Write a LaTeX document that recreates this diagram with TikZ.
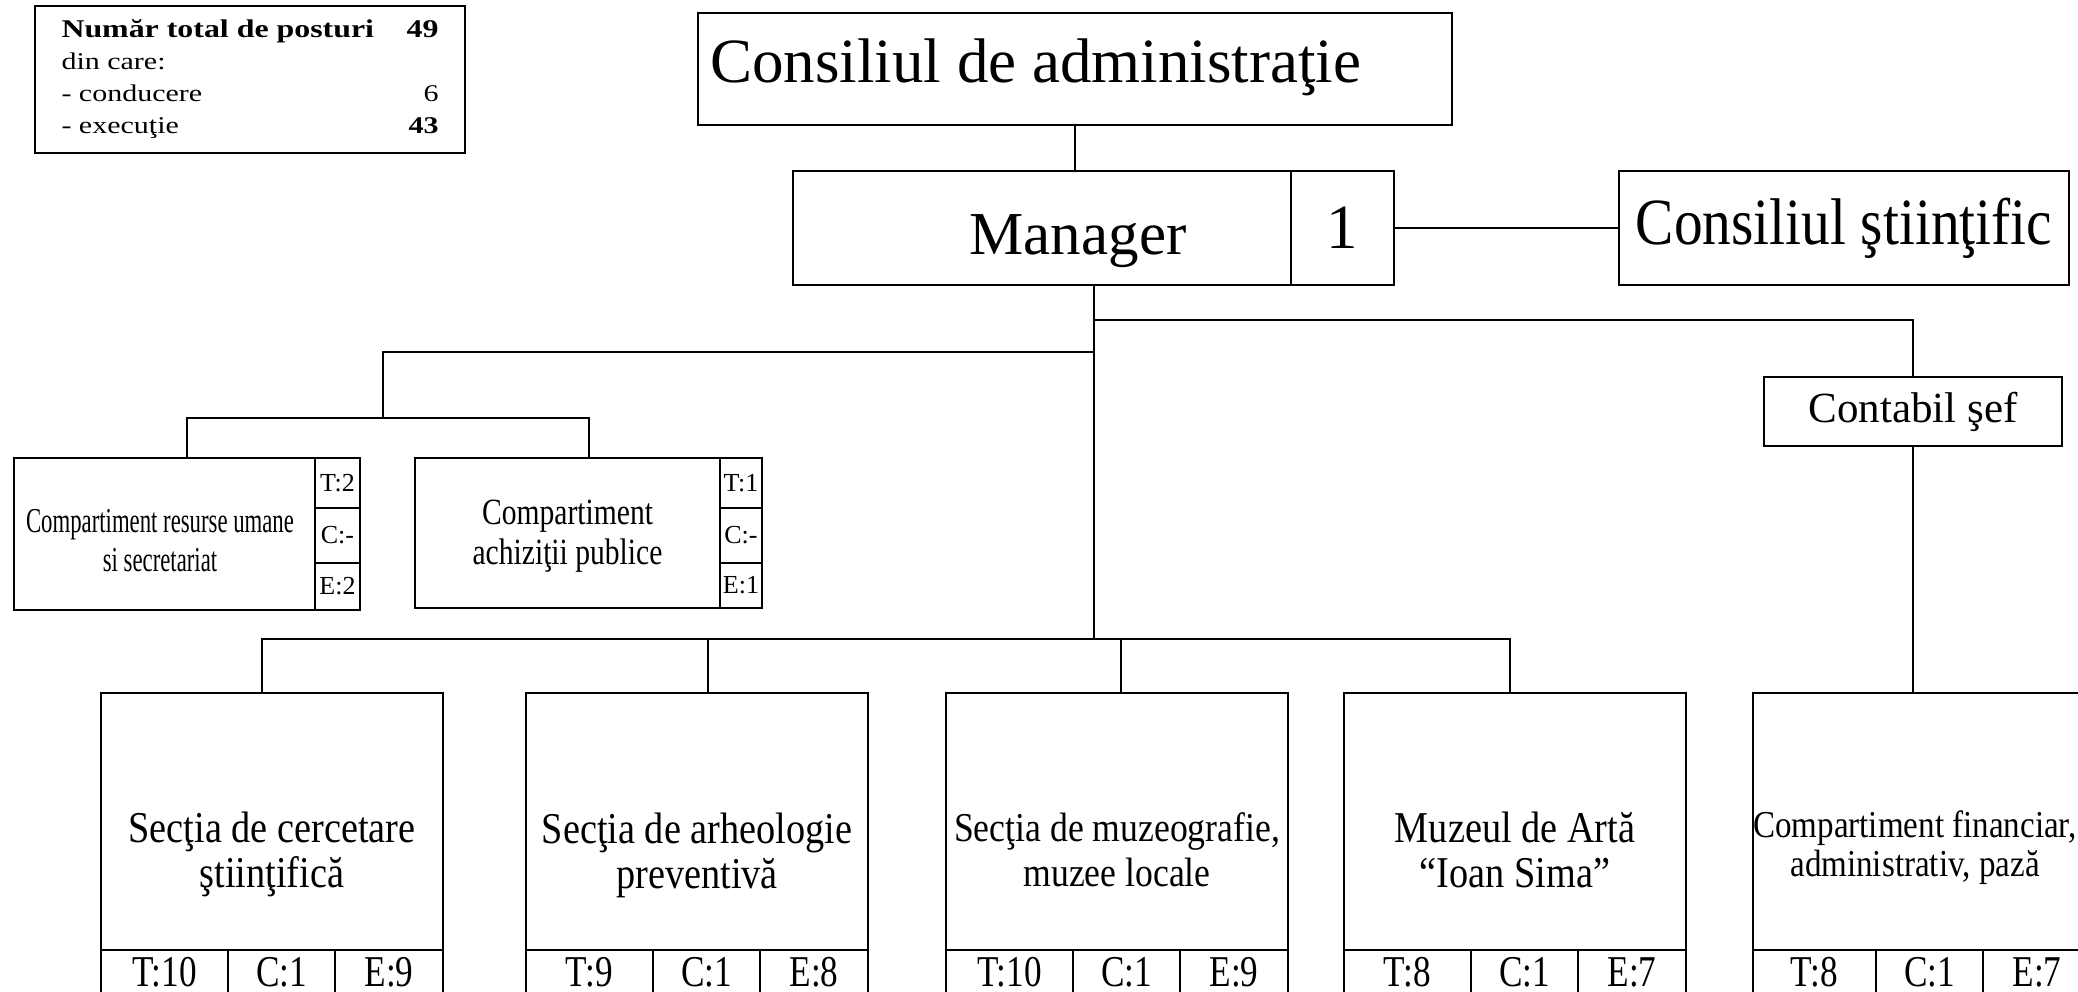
\documentclass[tikz,border=0pt]{standalone}
\usepackage{fontspec}
\setmainfont{Liberation Serif}
\newfontfamily\widefont[FakeStretch=1.25]{Liberation Serif}
\newfontfamily\condfont[FakeStretch=0.87]{Liberation Serif}
\newfontfamily\midfont[FakeStretch=0.8]{Liberation Serif}
\newfontfamily\narrowfont[FakeStretch=0.65]{Liberation Serif}
\usetikzlibrary{positioning}

\begin{document}
\begin{tikzpicture}[x=1pt,y=-1pt,inner sep=0pt,
    frame/.style={draw,line width=2.4pt,outer sep=0pt},
    wire/.style={line width=2pt},
    cell/.style={frame,anchor=north west,minimum height=44pt,font=\midfont\fontsize{44}{46}\selectfont},
    tag/.style={frame,font=\fontsize{26}{28}\selectfont},
    sect/.style={align=center,font=\condfont\fontsize{44}{45}\selectfont}]
        \useasboundingbox (0,0) rectangle (2078,992);
        \clip (0,0) rectangle (2078,992);
        \node[frame,minimum width=430pt,minimum height=147pt,font=\widefont\fontsize{24}{32}\selectfont] (tot) at (250,79.5)
            {\begin{tabular*}{377pt}{@{}l@{\extracolsep{\fill}}r@{}}
                {\fontsize{25.5}{32}\selectfont\textbf{Număr total de posturi}} & {\fontsize{25.5}{32}\selectfont\textbf{49}}\\
                din care: & \\
                - conducere & 6\\
                - execuţie & \textbf{43}
            \end{tabular*}};
        \node[frame,minimum width=754pt,minimum height=112pt] (ca) at (1075,69) {};
        \node[anchor=base west,font=\fontsize{63}{70}\selectfont] (cal) at (710,83) {Consiliul de administraţie};
        \node[frame,minimum width=601pt,minimum height=114pt] (mgr) at (1093.5,228) {};
        \node[anchor=base,font=\fontsize{61}{70}\selectfont] (mgrl) at (1078,255) {Manager};
        \node[frame,minimum width=103pt,minimum height=114pt,font=\fontsize{63}{70}\selectfont] (one) at (1342.5,228) {1};
        \node[frame,minimum width=450pt,minimum height=114pt,font=\condfont\fontsize{66}{70}\selectfont] (cs) at (1844,228) {Consiliul ştiinţific};
        \node[frame,minimum width=298pt,minimum height=69pt,font=\fontsize{43}{50}\selectfont] (cont) at (1913,411.5) {Contabil şef};
        \node[frame,minimum width=346pt,minimum height=152pt] (sb1) at (187,534) {};
        \node[align=center,font=\narrowfont\fontsize{35}{39}\selectfont] (sb1l) at (160,541) {Compartiment resurse umane\\si secretariat};
        \node[tag,anchor=north east,minimum width=45pt,minimum height=50pt] (sb1t) at (sb1.north east) {T:2};
        \node[tag,below=0pt of sb1t,minimum width=45pt,minimum height=55pt] (sb1c) {C:-};
        \node[tag,below=0pt of sb1c,minimum width=45pt,minimum height=47pt] (sb1e) {E:2};
        \node[frame,minimum width=347pt,minimum height=150pt] (sb2) at (588.5,533) {};
        \node[align=center,font=\midfont\fontsize{37}{40}\selectfont] (sb2l) at (567.5,536) {Compartiment\\achiziţii publice};
        \node[tag,anchor=north east,minimum width=42pt,minimum height=50pt] (sb2t) at (sb2.north east) {T:1};
        \node[tag,below=0pt of sb2t,minimum width=42pt,minimum height=55pt] (sb2c) {C:-};
        \node[tag,below=0pt of sb2c,minimum width=42pt,minimum height=45pt] (sb2e) {E:1};
        \node[frame,minimum width=342pt,minimum height=307pt] (b1) at (272,846.5) {};
        \node[sect] (b1l) at (272,854) {Secţia de cercetare\\ştiinţifică};
        \node[cell,minimum width=127pt] (b1t) at (101,950) {T:10};
        \node[cell,minimum width=107pt,right=0pt of b1t] (b1c) {C:1};
        \node[cell,minimum width=108pt,right=0pt of b1c] (b1e) {E:9};
        \node[frame,minimum width=342pt,minimum height=307pt] (b2) at (697,846.5) {};
        \node[sect] (b2l) at (697,855) {Secţia de arheologie\\preventivă};
        \node[cell,minimum width=127pt] (b2t) at (526,950) {T:9};
        \node[cell,minimum width=107pt,right=0pt of b2t] (b2c) {C:1};
        \node[cell,minimum width=108pt,right=0pt of b2c] (b2e) {E:8};
        \node[frame,minimum width=342pt,minimum height=307pt] (b3) at (1117,846.5) {};
        \node[sect,font=\condfont\fontsize{41}{45}\selectfont] (b3l) at (1117,850) {Secţia de muzeografie,\\muzee locale};
        \node[cell,minimum width=127pt] (b3t) at (946,950) {T:10};
        \node[cell,minimum width=107pt,right=0pt of b3t] (b3c) {C:1};
        \node[cell,minimum width=108pt,right=0pt of b3c] (b3e) {E:9};
        \node[frame,minimum width=342pt,minimum height=307pt] (b4) at (1515,846.5) {};
        \node[sect] (b4l) at (1515,850) {Muzeul de Artă\\“Ioan Sima”};
        \node[cell,minimum width=127pt] (b4t) at (1344,950) {T:8};
        \node[cell,minimum width=107pt,right=0pt of b4t] (b4c) {C:1};
        \node[cell,minimum width=108pt,right=0pt of b4c] (b4e) {E:7};
        \node[frame,minimum width=342pt,minimum height=307pt] (b5) at (1924,846.5) {};
        \node[sect,font=\condfont\fontsize{38}{39}\selectfont] (b5l) at (1915,848) {Compartiment financiar,\\administrativ, pază};
        \node[cell,minimum width=123pt] (b5t) at (1753,950) {T:8};
        \node[cell,minimum width=107pt,right=0pt of b5t] (b5c) {C:1};
        \node[cell,minimum width=108pt,right=0pt of b5c] (b5e) {E:7};
        \coordinate (lhub) at (383,418);
        \draw[wire] (ca.south) -- (ca.south |- mgr.north);
        \draw[wire] (one.east) -- (cs.west);
        \draw[wire] (mgr.south) -- ++(0,35) -| (cont.north);
        \draw[wire] (cont.south) -- (cont.south |- b5.north);
        \draw[wire] (mgr.south) -- ++(0,67) -| (lhub);
        \draw[wire] (sb1.north) -- ++(0,-40) -| (sb2.north);
        \draw[wire] (mgr.south) -- ++(0,354);
        \draw[wire] ([xshift=-10pt]b1.north) -- ++(0,-54) -| ([xshift=-5pt]b4.north);
        \draw[wire] ([xshift=11pt]b2.north) -- ++(0,-54);
        \draw[wire] ([xshift=4pt]b3.north) -- ++(0,-54);
\end{tikzpicture}
\end{document}
